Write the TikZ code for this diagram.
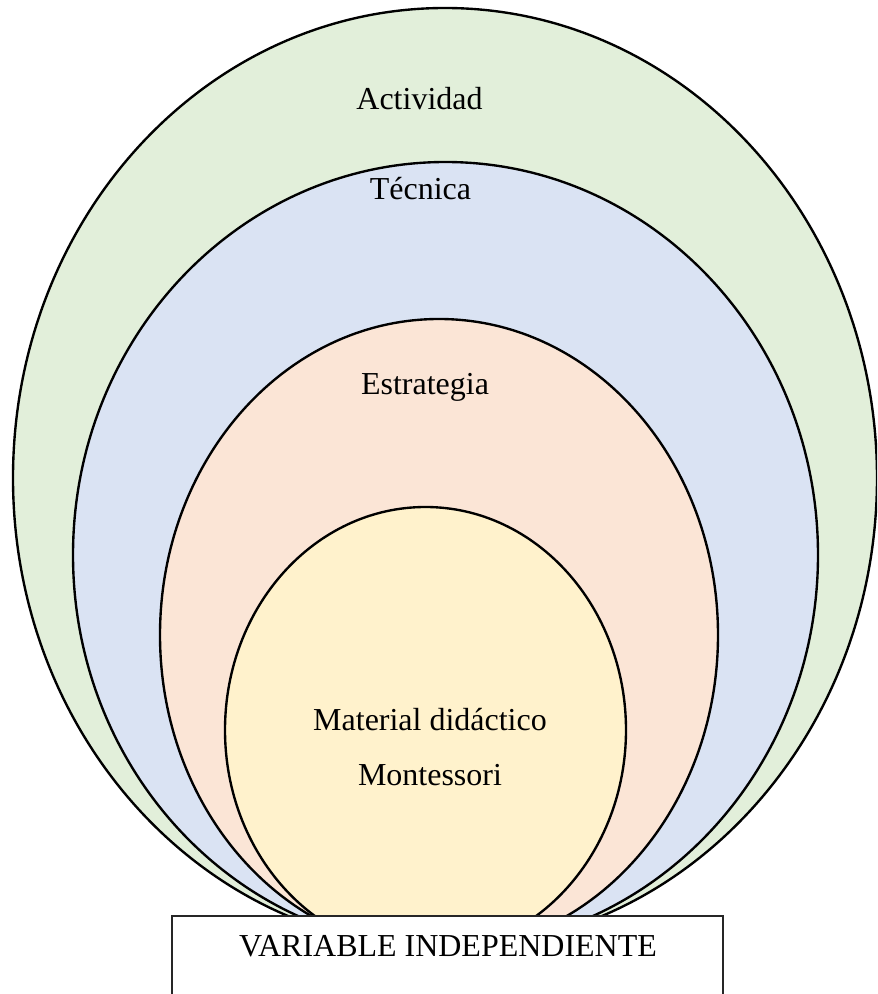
\documentclass[tikz,border=0pt]{standalone}
\usepackage{fontspec}
\setmainfont{Liberation Serif}
\definecolor{actgreen}{HTML}{E2EFDA}
\definecolor{tecblue}{HTML}{DAE3F3}
\definecolor{estpeach}{HTML}{FBE5D6}
\definecolor{matyellow}{HTML}{FFF2CC}
\begin{document}
\begin{tikzpicture}[ring/.style={draw=black, line width=1.35pt},
    lbl/.style={anchor=base, inner sep=0pt, font=\fontsize{18.2}{22}\selectfont}]
        \useasboundingbox (0,0) rectangle (17.54,19.88);
        \clip (0,0) rectangle (17.54,19.88);
        \draw [ring, fill=actgreen](8.9,10.32) ellipse (8.64 and 9.4);
        \draw [ring, fill=tecblue](8.91,8.78) ellipse (7.45 and 7.86);
        \draw [ring, fill=estpeach](8.78,7.18) ellipse (5.58 and 6.32);
        \draw [ring, fill=matyellow](8.51,5.28) ellipse (4.01 and 4.46);
        % labels
        \node [lbl] (act) at (8.39,17.68) {Actividad};
        \node [lbl] (tec) at (8.41,15.88) {Técnica};
        \node [lbl] (est) at (8.5,11.98) {Estrategia};
        \node [lbl] (mat) at (8.6,5.26) {Material didáctico};
        \node [lbl] (mon) at (8.6,4.16) {Montessori};
        \draw [fill=white, draw=black!85, line width=0.6pt](3.44,1.56) rectangle (14.46,-0.2);
        \node [lbl] (var) at (8.96,0.74) {VARIABLE INDEPENDIENTE};
    \end{tikzpicture}
\end{document}
